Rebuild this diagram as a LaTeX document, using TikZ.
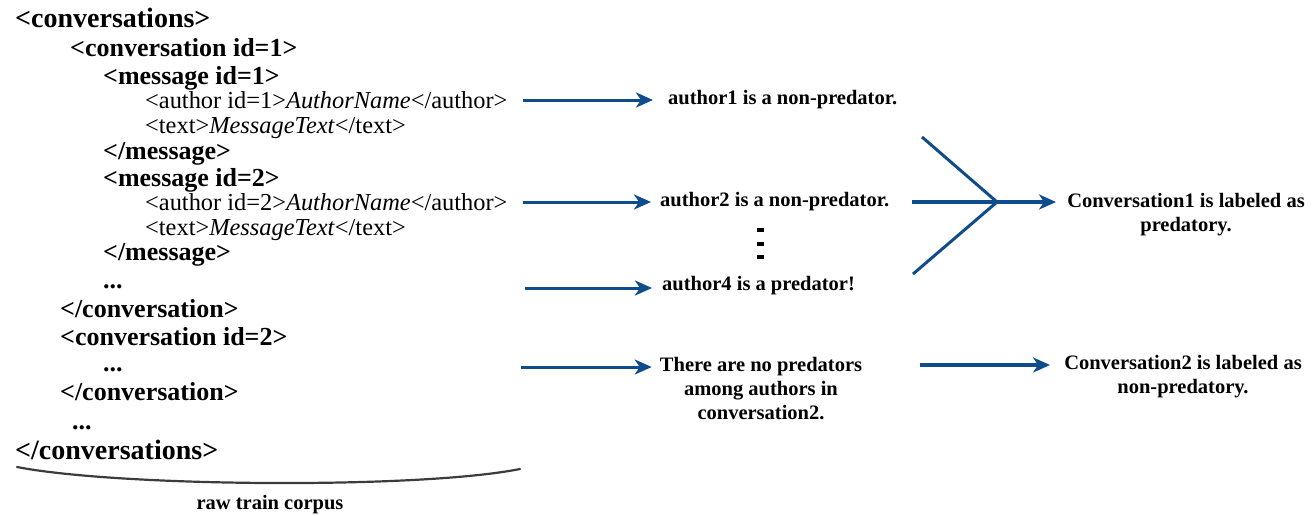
\documentclass[tikz,border=0pt]{standalone}
\usepackage{fontspec}
\setmainfont{Liberation Serif}
\usetikzlibrary{arrows.meta}
\definecolor{arrowblue}{RGB}{15,76,140}
\definecolor{bracegray}{RGB}{60,60,60}
\tikzset{
  xml/.style={anchor=base west, inner sep=0pt, font=\fontsize{26}{28}\selectfont\bfseries},
  xmlouter/.style={xml, font=\fontsize{28}{30}\selectfont\bfseries},
  xmlr/.style={anchor=base west, inner sep=0pt, font=\fontsize{24.4}{26}\selectfont},
  res/.style={inner sep=0pt, font=\fontsize{20.5}{24}\selectfont\bfseries, align=center},
  flow/.style={draw=arrowblue, line width=3pt, -{Stealth[length=17pt,width=15pt,inset=5pt]}},
  fan/.style={draw=arrowblue, line width=3pt},
}
\begin{document}
\begin{tikzpicture}[x=1pt,y=-1pt]
\useasboundingbox (0,0) rectangle (1315,515);
% left XML corpus
\node[xmlouter] (l1) at (15,27) {<conversations>};
\node[xml] (l2) at (70,56) {<conversation id=1>};
\node[xml] (l3) at (103,84) {<message id=1>};
\node[xmlr] (l4) at (145,108) {<author id=1>\textit{AuthorName}</author>};
\node[xmlr] (l5) at (145,133) {<text>\textit{MessageText}</text>};
\node[xml] (l6) at (103,159) {</message>};
\node[xml] (l7) at (103,186) {<message id=2>};
\node[xmlr] (l8) at (145,210) {<author id=2>\textit{AuthorName}</author>};
\node[xmlr] (l9) at (145,235) {<text>\textit{MessageText}</text>};
\node[xml] (l10) at (103,260) {</message>};
\node[xml] (l11) at (103,288) {...};
\node[xml] (l12) at (60,317) {</conversation>};
\node[xml] (l13) at (60,345) {<conversation id=2>};
\node[xml] (l14) at (103,371) {...};
\node[xml] (l15) at (60,400) {</conversation>};
\node[xml] (l16) at (72,429) {...};
\node[xmlouter] (l17) at (15,459) {</conversations>};
% brace
\coordinate (bl) at (17,467);
\coordinate (br) at (520,469);
\draw[bracegray, line width=2.2pt, line cap=round] (bl) .. controls (120,487) and (420,489) .. (br);
\node[res] (corpus) at (270,505) {raw train corpus};
% author results
\coordinate (s1) at (523,100);
\coordinate (s2) at (523,202);
\coordinate (s3) at (525,288);
\coordinate (s4) at (521,367);
\node[res, anchor=west] (r1) at (668,100) {author1 is a non-predator.};
\node[res, anchor=west] (r2) at (660,202) {author2 is a non-predator.};
\node[res, anchor=west] (r3) at (662,286) {author4 is a predator!};
\node[res] (r4) at (761,389) {There are no predators\\among authors in\\conversation2.};
\draw[flow] (s1) -- ([xshift=-15pt]r1.west |- s1);
\draw[flow] (s2) -- ([xshift=-9pt]r2.west |- s2);
\draw[flow] (s3) -- ([xshift=-10pt]r3.west |- s3);
\draw[flow] (s4) -- ([xshift=-8pt]r4.west |- s4);
% vertical dots
\foreach \yy in {228,242,255}
  \fill (757,\yy) rectangle (764,\yy+4);
% fan
\coordinate (fa) at (922,137);
\coordinate (fb) at (912,202);
\coordinate (fc) at (913,274);
\coordinate (fj) at (997,202);
\draw[fan] (fa) -- (fj);
\draw[fan] (fc) -- (fj);
\node[res] (c1) at (1186,215) {Conversation1 is labeled as\\predatory.};
\draw[flow, line width=4pt] (fb) -- ([xshift=-11pt]c1.west |- fb);
\coordinate (t2) at (920,365);
\node[res] (c2) at (1183,377) {Conversation2 is labeled as\\non-predatory.};
\draw[flow, line width=4pt] (t2) -- ([xshift=-14pt]c2.west |- t2);
\end{tikzpicture}
\end{document}
